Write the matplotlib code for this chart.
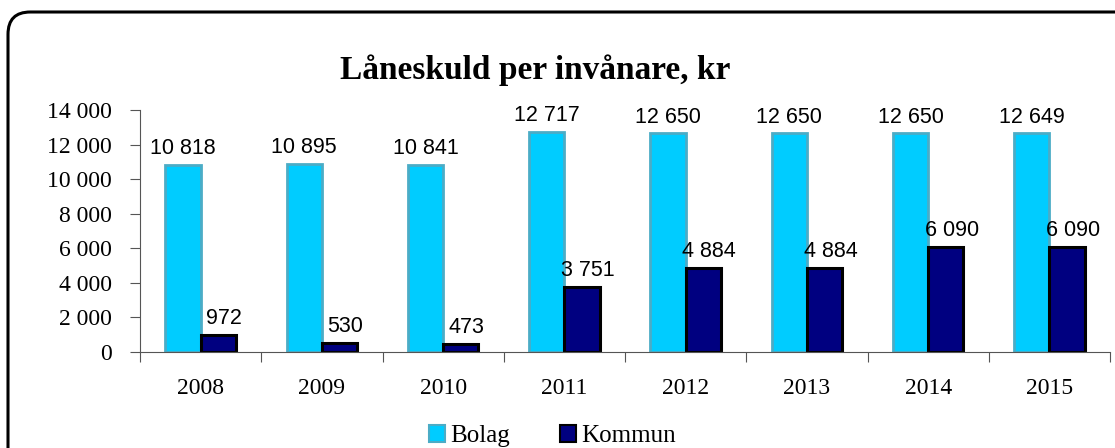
import numpy as np
import matplotlib.pyplot as plt
from matplotlib.patches import FancyBboxPatch, Patch

years = ["2008", "2009", "2010", "2011", "2012", "2013", "2014", "2015"]
bolag = [10818, 10895, 10841, 12717, 12650, 12650, 12650, 12649]
kommun = [972, 530, 473, 3751, 4884, 4884, 6090, 6090]
bolag_labels = ["10 818", "10 895", "10 841", "12 717", "12 650", "12 650", "12 650", "12 649"]
kommun_labels = ["972", "530", "473", "3 751", "4 884", "4 884", "6 090", "6 090"]
yticks = [0, 2000, 4000, 6000, 8000, 10000, 12000, 14000]

serif = "Liberation Serif"
sans = "Liberation Sans"

fig = plt.figure(figsize=(11.15, 4.48), dpi=100)

# rounded frame, only top-left corner is inside the picture
top = 1 - 12 / 448
frame = FancyBboxPatch((8 / 1115, -0.5), 1.2, top + 0.5,
                       boxstyle="round,pad=0,rounding_size=0.02",
                       transform=fig.transFigure, fill=False,
                       edgecolor="black", linewidth=2.2, clip_on=False,
                       mutation_aspect=1115 / 448)
fig.patches.append(frame)

ax = fig.add_axes([140 / 1115, 1 - 352 / 448, 970 / 1115, 242 / 448])

x = np.arange(len(years))
w = 0.29
ax.bar(x - w / 2, bolag, w, color="#00CCFF", edgecolor="#4BACC6", linewidth=2.0)
ax.bar(x + w / 2, kommun, w, color="#000080", edgecolor="black", linewidth=2.2)

for xi, v, s in zip(x, bolag, bolag_labels):
    ax.text(xi - w / 2, v + 330, s, ha="center", va="bottom",
            fontsize=15.5, family=sans)
for xi, v, s in zip(x, kommun, kommun_labels):
    ax.text(xi + w / 2 + 0.05, v + 330, s, ha="center", va="bottom",
            fontsize=15.5, family=sans)

ax.set_xlim(-0.5, len(years) - 0.5)
ax.set_ylim(0, 14000)
ax.set_yticks(yticks)
ax.set_yticklabels([f"{t:,}".replace(",", " ") for t in yticks],
                   fontsize=17, family=serif)
ax.set_xticks(np.arange(-0.5, len(years)), labels=[])
ax.set_xticks(x, minor=True)
ax.set_xticklabels(years, minor=True, fontsize=17, family=serif)
ax.tick_params(axis="x", which="major", length=7, direction="out", color="#555555")
ax.tick_params(axis="x", which="minor", length=0, pad=19)
ax.tick_params(axis="y", length=7, direction="out", color="#555555", pad=13)

for side in ["top", "right"]:
    ax.spines[side].set_visible(False)
ax.spines["left"].set_color("#555555")
ax.spines["bottom"].set_color("#555555")

fig.text(535 / 1115, 1 - 70 / 448, "Låneskuld per invånare, kr",
         ha="center", va="center", fontsize=24, fontweight="bold", family=serif)

handles = [Patch(facecolor="#00CCFF", edgecolor="#4BACC6", linewidth=1.5),
           Patch(facecolor="#000080", edgecolor="black", linewidth=1.5)]
fig.legend(handles, ["Bolag", "Kommun"], loc="center", ncol=2,
           bbox_to_anchor=(552 / 1115, 1 - 436 / 448), frameon=False,
           prop={"family": serif, "size": 18}, handlelength=0.65,
           handleheight=0.65, handletextpad=0.2, columnspacing=2.0,
           borderpad=0)

fig.savefig("out.png", dpi=100)
